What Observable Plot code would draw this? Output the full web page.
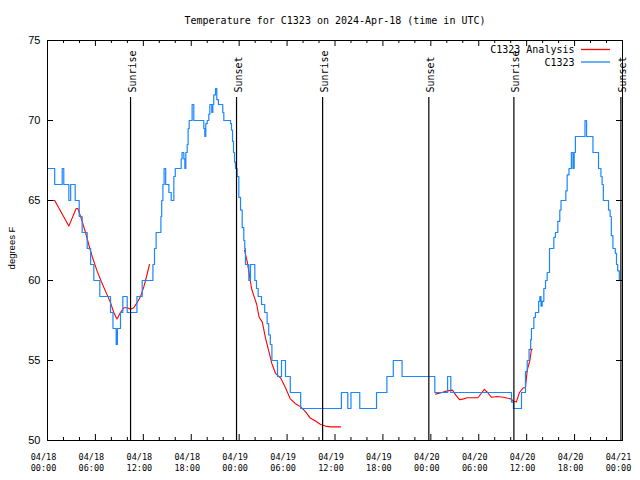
<!DOCTYPE html>
<html>
<head>
<meta charset="utf-8">
<script src="https://cdn.jsdelivr.net/npm/d3@7"></script>
<script src="https://cdn.jsdelivr.net/npm/@observablehq/plot@0.6"></script>
<style>
  body { margin: 0; background: #fff; }
  #wrap { position: relative; width: 640px; height: 480px; overflow: hidden; }
</style>
</head>
<body>
<div id="wrap"></div>
<script>
// ---- data (hours since 2024-04-18 00:00 UTC) ----
const titleText = "Temperature for C1323 on 2024-Apr-18 (time in UTC)";
const yLabel = "degrees F";
const seriesNames = ["C1323 Analysis", "C1323"];

const blueHours = [0,0.9,1.84,2.04,2.67,2.9,3.47,3.97,4.34,4.97,5.4,5.8,6.55,7.89,8.2,8.6,8.75,9.14,9.43,9.98,11.2,11.86,13.2,13.4,13.6,14.2,14.3,14.45,14.6,14.8,15.2,15.49,15.82,16.0,16.74,16.85,17.07,17.2,17.32,17.49,17.61,17.74,18.11,18.32,19.57,19.7,19.82,20.0,20.2,20.33,20.57,20.7,20.82,21.04,21.2,21.4,21.95,22.08,22.92,23.04,23.17,23.29,23.42,23.54,23.75,23.96,24.17,24.38,24.58,24.7,24.79,25.21,25.42,25.96,26.17,26.38,26.8,27.2,27.5,27.7,27.9,28.1,28.8,29.3,29.8,30.4,31.7,36.8,37.6,38.0,39.1,41.2,42.5,43.3,44.4,48.5,50.1,50.5,58.1,58.35,59.35,59.85,60.07,60.3,60.5,60.6,60.9,61.1,61.5,61.65,61.8,61.95,62.15,62.36,62.57,62.86,63.4,63.6,63.9,64.15,64.3,64.9,65.07,65.3,65.6,65.8,65.95,66.1,67.3,67.5,68.3,69.0,69.3,69.45,69.6,70.25,70.45,70.6,70.8,71.1,71.25,71.4,71.6,71.7];
const blueTemps = [67,66,67,66,65,66,65,64,63,62,61,60,59,58,57,56,57,58,59,58,59,60,61,62,63,64,65,66,67,66,65.5,65,66.5,67,67.6,68,67.6,67,68,68.5,69.5,70,71,70,69.5,69,69.8,70,70.4,71,70.5,71,71.6,72,71.3,71,70.5,70,69.8,69.4,68.7,68,67.4,67,66.5,65.2,64.4,63.3,62.5,62,61,60,61,60,59.5,59,58.5,58,57.3,56.6,56,55,54,55,54,53,52,53,52,53,52,53,54,55,54,53,54,53,52.4,52,53,54.3,55,55.7,56.3,57,57.7,58,58.7,59,58.4,58.7,59.5,60,60.5,62,62.7,63,63.7,64.4,65,65.6,66.6,67,68,67,68,69,70,69,68,67,66.5,66,65,64.4,64,62.8,62,61.7,61,60.6,60,60];

const redHours = [0.58,0.9,2.67,3.59,3.8,4.34,4.76,5.3,5.6,6.2,6.85,7.47,7.9,8.3,8.7,9.14,9.56,9.98,10.4,10.8,11.2,11.65,12.06,12.4,12.77,
  24.67,25.0,25.2,25.55,25.8,26.2,26.5,26.9,27.3,27.7,28.1,28.55,29.2,29.8,30.4,31.05,31.7,32.3,32.9,33.6,34.2,34.8,35.4,36.7,
  48.6,49.4,50.05,50.7,51.1,51.6,52.1,52.55,53.9,54.4,54.7,55.1,55.6,56.3,57.1,58.0,58.4,58.7,59.1,59.6,59.85,60.07,60.4,60.6,60.7];
const redTemps = [65,65,63.4,64.5,64.5,63.7,63,62,61.5,60.6,59.8,59.1,58.6,58,57.6,58,58.3,58.3,58.2,58.3,58.6,59,59.6,60.25,61,
  61.9,61.2,60.6,59.5,59.1,58.5,57.7,57.4,56.4,55.6,54.8,54.2,53.9,53.3,52.6,52.3,52.1,51.8,51.4,51.2,51.0,50.9,50.85,50.85,
  52.9,53.0,53.1,53.15,52.85,52.55,52.6,52.67,52.67,53.0,53.2,53.0,52.7,52.75,52.7,52.6,52.45,52.4,53.0,53.3,53.3,54.4,55.0,55.7,55.7];
const redSegment = [1,1,1,1,1,1,1,1,1,1,1,1,1,1,1,1,1,1,1,1,1,1,1,1,1,
  2,2,2,2,2,2,2,2,2,2,2,2,2,2,2,2,2,2,2,2,2,2,2,2,
  3,3,3,3,3,3,3,3,3,3,3,3,3,3,3,3,3,3,3,3,3,3,3,3,3];

const sunHours = [10.4, 23.67, 34.45, 47.75, 58.4, 71.8];
const sunLabels = ["Sunrise", "Sunset", "Sunrise", "Sunset", "Sunrise", "Sunset"];

const yTicks = [50, 55, 60, 65, 70, 75];
const xTickHours = [0, 6, 12, 18, 24, 30, 36, 42, 48, 54, 60, 66, 72];
const xTickLabels = ["04/18\n00:00","04/18\n06:00","04/18\n12:00","04/18\n18:00","04/19\n00:00","04/19\n06:00","04/19\n12:00","04/19\n18:00","04/20\n00:00","04/20\n06:00","04/20\n12:00","04/20\n18:00","04/21\n00:00"];
const xMinorHours = [2,4,8,10,14,16,20,22,26,28,32,34,38,40,44,46,50,52,56,58,62,64,68,70];

// ---- build ----
const startUTC = Date.UTC(2024, 3, 18);
const toDate = h => new Date(startUTC + h * 3600e3);
const blue = blueHours.map((h, i) => ({t: toDate(h), v: blueTemps[i]}));
const red = redHours.map((h, i) => ({t: toDate(h), v: redTemps[i], s: redSegment[i]}));
const sun = sunHours.map((h, i) => ({t: toDate(h), label: sunLabels[i]}));
const xt = xTickHours.map((h, i) => ({t: toDate(h), label: xTickLabels[i]}));
const xm = xMinorHours.map(toDate);

const RED = "#ff0000", BLUE = "#1a86ff";
const MONO = "DejaVu Sans Mono";
const SANS = "Liberation Sans";

const chart = Plot.plot({
  width: 640, height: 480,
  marginLeft: 47, marginRight: 18, marginTop: 40, marginBottom: 40,
  x: {type: "utc", domain: [toDate(0), toDate(72)], axis: null},
  y: {domain: [50, 75], axis: null},
  style: {background: "white", overflow: "visible", fontFamily: MONO},
  marks: [
    Plot.line(red, {x: "t", y: "v", z: "s", stroke: RED, strokeWidth: 1.1}),
    Plot.line(blue, {x: "t", y: "v", stroke: BLUE, strokeWidth: 1.2, curve: "step-after"}),
    Plot.ruleX(sun, {x: "t", insetTop: 57, stroke: "black", strokeWidth: 1.2}),
    Plot.text(sun, {x: "t", text: "label", frameAnchor: "top", dy: 52, dx: -2, rotate: -90, textAnchor: "start", lineAnchor: "top", fontSize: 10, fontFamily: MONO, fill: "black"}),
    Plot.frame({stroke: "black"}),
    // x ticks bottom & top
    Plot.ruleX(xt, {x: "t", insetTop: 394, stroke: "black"}),
    Plot.ruleX(xt, {x: "t", insetBottom: 394, stroke: "black"}),
    Plot.ruleX(xm, {x: d => d, insetTop: 397, stroke: "black"}),
    Plot.ruleX(xm, {x: d => d, insetBottom: 397, stroke: "black"}),
    // y ticks left & right
    Plot.ruleY(yTicks, {y: d => d, insetRight: 569, stroke: "black"}),
    Plot.ruleY(yTicks, {y: d => d, insetLeft: 569, stroke: "black"}),
    // tick labels
    Plot.text(xt, {x: "t", text: "label", frameAnchor: "bottom", lineAnchor: "top", dy: 11, dx: -4, lineHeight: 1.35, fontSize: 8.5, fontFamily: MONO, fill: "black"}),
    Plot.text(yTicks, {y: d => d, text: d => String(d), frameAnchor: "left", textAnchor: "end", lineAnchor: "middle", dx: -7, fontSize: 11, fontFamily: SANS, fill: "black"}),
    Plot.text([yLabel], {text: d => d, frameAnchor: "left", rotate: -90, textAnchor: "middle", lineAnchor: "middle", dx: -36, dy: 7.5, fontSize: 9.5, fontFamily: SANS, fill: "black"}),
    // title
    Plot.text([titleText], {text: d => d, frameAnchor: "top", textAnchor: "middle", lineAnchor: "middle", dy: -19.5, fontSize: 10, fontFamily: MONO, fill: "black"}),
    // legend labels
    Plot.text([seriesNames[0]], {text: d => d, frameAnchor: "top-right", textAnchor: "end", lineAnchor: "middle", dx: -48, dy: 9.5, fontSize: 10, fontFamily: MONO, fill: "black"}),
    Plot.text([seriesNames[1]], {text: d => d, frameAnchor: "top-right", textAnchor: "end", lineAnchor: "middle", dx: -48, dy: 22, fontSize: 10, fontFamily: MONO, fill: "black"})
  ]
});

document.getElementById("wrap").appendChild(chart);
// legend swatches (decoration, drawn into the svg)
const svg = d3.select(chart);
[[RED, 49.5], [BLUE, 62]].forEach(([c, y]) => {
  svg.append("line")
    .attr("x1", 581).attr("x2", 610)
    .attr("y1", y).attr("y2", y)
    .attr("stroke", c).attr("stroke-width", 1.3);
});
</script>
</body>
</html>
